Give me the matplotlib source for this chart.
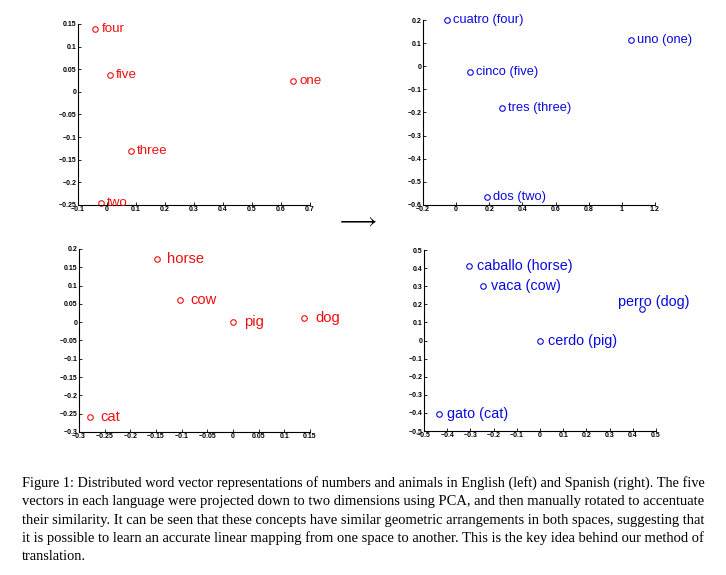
# Word vectors of numbers and animals, English vs Spanish (PCA projections)

import matplotlib
matplotlib.use("Agg")
import matplotlib.pyplot as plt

# Numbers, English
num_en_words = ["four", "five", "one", "three", "two"]
num_en_x = [-0.04, 0.009, 0.641, 0.082, -0.022]
num_en_y = [0.14, 0.037, 0.024, -0.13, -0.245]

# Numbers, Spanish
num_es_words = ["cuatro (four)", "uno (one)", "cinco (five)", "tres (three)", "dos (two)"]
num_es_x = [-0.053, 1.057, 0.086, 0.279, 0.187]
num_es_y = [0.199, 0.112, -0.026, -0.182, -0.567]

# Animals, English
ani_en_words = ["horse", "cow", "pig", "dog", "cat"]
ani_en_x = [-0.149, -0.103, 0.0, 0.139, -0.278]
ani_en_y = [0.172, 0.061, 0.0, 0.011, -0.259]

# Animals, Spanish
ani_es_words = ["caballo (horse)", "vaca (cow)", "perro (dog)", "cerdo (pig)", "gato (cat)"]
ani_es_x = [-0.307, -0.245, 0.439, 0.0, -0.434]
ani_es_y = [0.41, 0.299, 0.174, 0.0, -0.408]

# Tick values
tl_xticks = [-0.1, 0, 0.1, 0.2, 0.3, 0.4, 0.5, 0.6, 0.7]
tl_yticks = [-0.25, -0.2, -0.15, -0.1, -0.05, 0, 0.05, 0.1, 0.15]
tr_xticks = [-0.2, 0, 0.2, 0.4, 0.6, 0.8, 1, 1.2]
tr_yticks = [-0.6, -0.5, -0.4, -0.3, -0.2, -0.1, 0, 0.1, 0.2]
bl_xticks = [-0.3, -0.25, -0.2, -0.15, -0.1, -0.05, 0, 0.05, 0.1, 0.15]
bl_yticks = [-0.3, -0.25, -0.2, -0.15, -0.1, -0.05, 0, 0.05, 0.1, 0.15, 0.2]
br_xticks = [-0.5, -0.4, -0.3, -0.2, -0.1, 0, 0.1, 0.2, 0.3, 0.4, 0.5]
br_yticks = [-0.5, -0.4, -0.3, -0.2, -0.1, 0, 0.1, 0.2, 0.3, 0.4, 0.5]

caption_lines = [
    "Figure 1: Distributed word vector representations of numbers and animals in English (left) and Spanish (right). The five",
    "vectors in each language were projected down to two dimensions using PCA, and then manually rotated to accentuate",
    "their similarity. It can be seen that these concepts have similar geometric arrangements in both spaces, suggesting that",
    "it is possible to learn an accurate linear mapping from one space to another. This is the key idea behind our method of",
    "translation.",
]

RED = "#ee1010"
BLUE = "#0a0adc"

plt.rcParams["font.family"] = ["Liberation Sans", "DejaVu Sans"]
LABEL_FONT = ["Liberation Sans Narrow", "Liberation Sans"]

fig = plt.figure(figsize=(7.26, 5.75), dpi=100)


def fmt(v):
    s = "%g" % v
    return s.replace("-", "\u2212")


def panel(rect, xs, ys, words, color, xticks, yticks, fs, dx, special=None):
    ax = fig.add_axes(rect)
    ax.plot(xs, ys, "o", mfc="none", mec=color, ms=4.0, mew=0.8, clip_on=False)
    for x, y, w in zip(xs, ys, words):
        off = (dx, 0)
        if special and w in special:
            off = special[w]
        ax.annotate(w, (x, y), xytext=off, textcoords="offset points",
                    color=color, fontsize=fs, va="center", ha="left",
                    family=LABEL_FONT)
    ax.set_xlim(xticks[0], xticks[-1])
    ax.set_ylim(yticks[0], yticks[-1])
    ax.set_xticks(xticks)
    ax.set_yticks(yticks)
    ax.set_xticklabels([fmt(v) for v in xticks])
    ax.set_yticklabels([fmt(v) for v in yticks])
    for side in ["top", "right"]:
        ax.spines[side].set_visible(False)
    for side in ["left", "bottom"]:
        ax.spines[side].set_linewidth(0.8)
    ax.tick_params(direction="in", length=2, width=0.6, pad=1,
                   labelsize=5.0)
    for lab in ax.get_xticklabels() + ax.get_yticklabels():
        lab.set_fontweight("bold")
    return ax


panel([0.1074, 0.6435, 0.3196, 0.3148], num_en_x, num_en_y, num_en_words,
      RED, tl_xticks, tl_yticks, 9.6, 4.6)
panel([0.5826, 0.6435, 0.3196, 0.3217], num_es_x, num_es_y, num_es_words,
      BLUE, tr_xticks, tr_yticks, 9.3, 4.2)
panel([0.1088, 0.2487, 0.3182, 0.3183], ani_en_x, ani_en_y, ani_en_words,
      RED, bl_xticks, bl_yticks, 10.6, 7.6)
panel([0.5840, 0.2504, 0.3196, 0.3148], ani_es_x, ani_es_y, ani_es_words,
      BLUE, br_xticks, br_yticks, 10.4, 5.6, special={"perro (dog)": (-17.3, 5)})

# Arrow between the two languages
fig.text(356 / 726, 1 - 221 / 575, r"$\longrightarrow$", fontsize=17,
         math_fontfamily="cm", ha="center", va="center")

# Caption, each line stretched to the text block width
left, right = 22, 705
baselines = [487, 505.5, 524, 542.3, 560.5]
renderer = fig.canvas.get_renderer()
texts = []
sizes = []
for line, yb in zip(caption_lines, baselines):
    t = fig.text(left / 726, 1 - yb / 575, line, fontsize=9,
                 family="Liberation Serif", ha="left", va="baseline")
    texts.append(t)
for t in texts[:-1]:
    w = t.get_window_extent(renderer).width
    s = 9 * (right - left) / w
    t.set_fontsize(s)
    sizes.append(s)
texts[-1].set_fontsize(sum(sizes) / len(sizes))

fig.savefig("out.png", dpi=100)
